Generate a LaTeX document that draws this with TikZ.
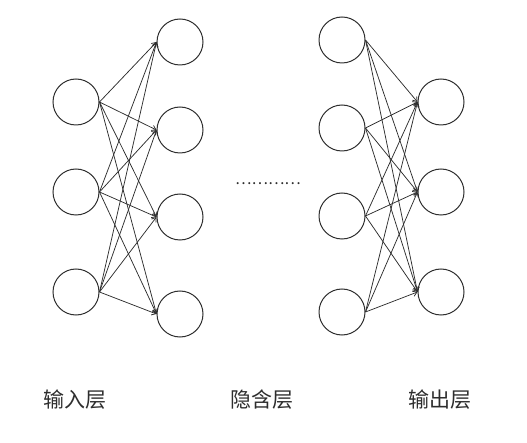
\documentclass[tikz,border=0pt]{standalone}
\usepackage{fontspec}
\newfontfamily\cjk{Noto Sans CJK SC}
\usetikzlibrary{arrows.meta}
\definecolor{ink}{HTML}{2E2E2E}
\begin{document}
\begin{tikzpicture}[x=1pt,y=-1pt,
  neuron/.style={circle,draw=ink,line width=1pt,minimum size=46pt,inner sep=0pt},
  link/.style={draw=ink,line width=0.75pt,-{Straight Barb[length=4pt,width=5.5pt]}},
  layerlabel/.style={font=\cjk\fontsize{21}{21}\selectfont,text=ink}]
\useasboundingbox (0,0) rectangle (527,443);
\node[neuron] (i1) at (76,102) {};
\node[neuron] (i2) at (76,192) {};
\node[neuron] (i3) at (76,292) {};
\node[neuron] (a1) at (180,42) {};
\node[neuron] (a2) at (180,130) {};
\node[neuron] (a3) at (180,217) {};
\node[neuron] (a4) at (180,314) {};
\node[neuron] (b1) at (342,40) {};
\node[neuron] (b2) at (342,128) {};
\node[neuron] (b3) at (342,216) {};
\node[neuron] (b4) at (342,312) {};
\node[neuron] (o1) at (441,102) {};
\node[neuron] (o2) at (441,192) {};
\node[neuron] (o3) at (441,292) {};
\foreach \s in {i1,i2,i3}
  \foreach \t in {a1,a2,a3,a4}
    \draw[link] (\s.east) -- (\t.west);
\foreach \s in {b1,b2,b3,b4}
  \foreach \t in {o1,o2,o3}
    \draw[link] (\s.east) -- (\t.west);
\node[font=\cjk\fontsize{15.5}{15.5}\selectfont,text=ink,inner sep=0pt] (dots) at (268,184) {…………};
\node[layerlabel] (l1) at (75,400) {输入层};
\node[layerlabel] (l2) at (262,400) {隐含层};
\node[layerlabel] (l3) at (440,400) {输出层};
\end{tikzpicture}
\end{document}
